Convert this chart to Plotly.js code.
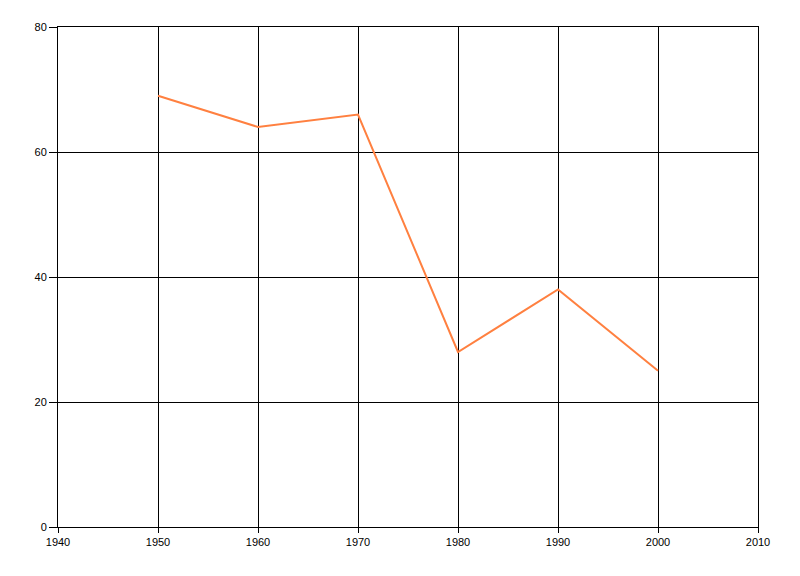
<!DOCTYPE html>
<html>
<head>
<meta charset="utf-8">
<script src="https://cdn.plot.ly/plotly-3.0.1.min.js"></script>
<style>html,body{margin:0;padding:0;background:#fff;}#chart{width:800px;height:576px;}</style>
</head>
<body>
<div id="chart"></div>
<script>
var years = [1950, 1960, 1970, 1980, 1990, 2000];
var values = [69, 64, 66, 28, 38, 25];
var xTicks = [1940, 1950, 1960, 1970, 1980, 1990, 2000, 2010];
var yTicks = [0, 20, 40, 60, 80];

var trace = {
  x: years,
  y: values,
  type: 'scatter',
  mode: 'lines',
  line: {color: 'rgb(255,128,64)', width: 2},
  hoverinfo: 'none'
};

var layout = {
  width: 800,
  height: 576,
  margin: {l: 57.5, r: 42, t: 26.5, b: 49, pad: 0},
  paper_bgcolor: '#fff',
  plot_bgcolor: '#fff',
  showlegend: false,
  font: {family: 'Liberation Sans, Arial, sans-serif', size: 11, color: '#000'},
  xaxis: {
    range: [1940, 2010],
    tickvals: xTicks,
    ticktext: xTicks.map(String),
    showgrid: true, gridcolor: '#000', gridwidth: 1,
    showline: true, linecolor: '#000', linewidth: 1, mirror: true,
    ticks: 'outside', ticklen: 5, tickcolor: '#000', tickwidth: 1,
    zeroline: false
  },
  yaxis: {
    range: [0, 80],
    tickvals: yTicks,
    ticktext: yTicks.map(String),
    showgrid: true, gridcolor: '#000', gridwidth: 1,
    showline: true, linecolor: '#000', linewidth: 1, mirror: true,
    ticks: 'outside', ticklen: 8, tickcolor: '#000', tickwidth: 1,
    zeroline: false
  }
};

Plotly.newPlot('chart', [trace], layout, {staticPlot: true, displayModeBar: false});
</script>
</body>
</html>
